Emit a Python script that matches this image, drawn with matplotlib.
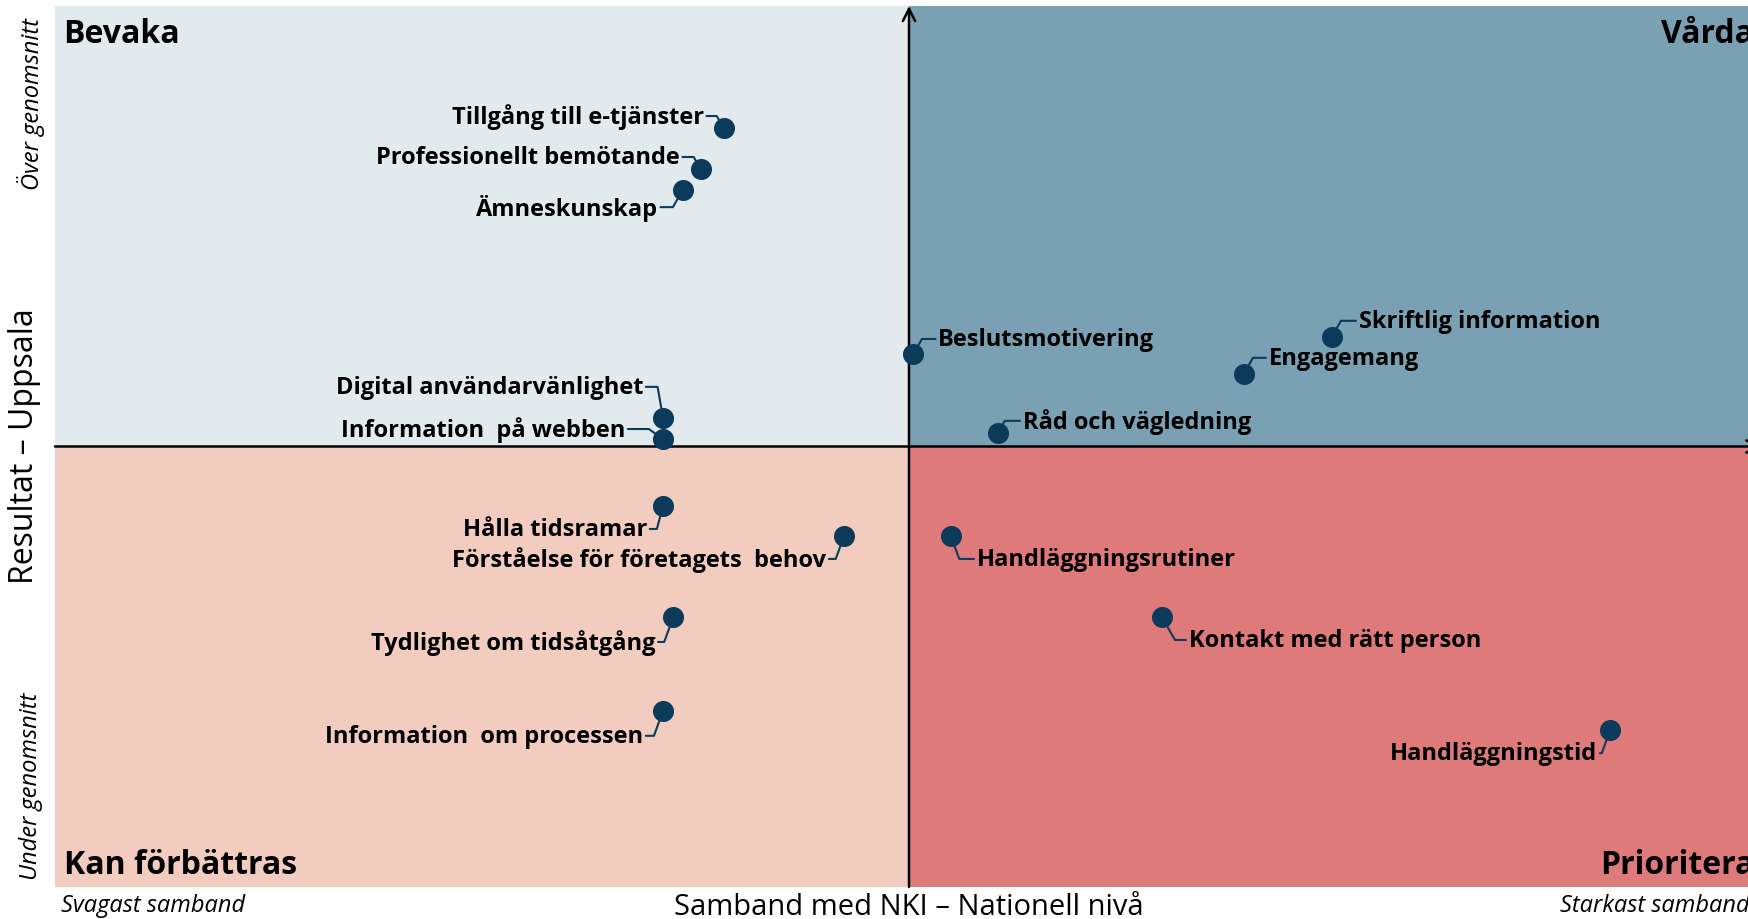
import matplotlib
matplotlib.use("Agg")
import matplotlib.pyplot as plt
from matplotlib.patches import Rectangle

plt.rcParams["font.family"] = ["Open Sans", "DejaVu Sans"]

# data: x = samband med NKI (centred at 0), y = resultat relative to average
labels = [
    "Tillgång till e-tjänster",
    "Professionellt bemötande",
    "Ämneskunskap",
    "Digital användarvänlighet",
    "Information  på webben",
    "Hålla tidsramar",
    "Förståelse för företagets  behov",
    "Tydlighet om tidsåtgång",
    "Information  om processen",
    "Beslutsmotivering",
    "Råd och vägledning",
    "Skriftlig information",
    "Engagemang",
    "Handläggningsrutiner",
    "Kontakt med rätt person",
    "Handläggningstid",
]
x_vals = [-0.217, -0.244, -0.265, -0.288, -0.288, -0.288, -0.076, -0.276, -0.288,
          0.005, 0.104, 0.495, 0.392, 0.049, 0.296, 0.821]
y_vals = [0.723, 0.630, 0.582, 0.065, 0.017, -0.135, -0.203, -0.387, -0.600,
          0.210, 0.031, 0.249, 0.165, -0.203, -0.387, -0.644]

# label offsets in pixels (dx, dy) and slant of the leader line
offsets = [(-20, 12), (-21, 12), (-25, -17), (-20, 31), (-38, 10), (-16, -23),
           (-18, -23), (-18, -25), (-20, -25), (25, 15), (25, 12), (27, 16),
           (25, 16), (26, -23), (27, -23), (-13, -23)]
slants = [60, 60, 60, 80, 35, 75, 70, 70, 70, 60, 60, 60, 60, 70, 60, 70]

quadrant_titles = ["Bevaka", "Vårda", "Kan förbättras", "Prioritera"]

dot_color = "#0b3a5a"
W, H = 1749, 920

fig = plt.figure(figsize=(W / 100, H / 100), dpi=100)
ax = fig.add_axes([55 / W, 32 / H, 1708 / W, 881 / H])
ax.set_xlim(-1, 1)
ax.set_ylim(-1, 1)
ax.axis("off")

# quadrant backgrounds
ax.add_patch(Rectangle((-1, 0), 1, 1, color="#e3eaee", zorder=0))
ax.add_patch(Rectangle((0, 0), 1, 1, color="#7aa1b3", zorder=0))
ax.add_patch(Rectangle((-1, -1), 1, 1, color="#f2cdbf", zorder=0))
ax.add_patch(Rectangle((0, -1), 1, 1, color="#df7a7a", zorder=0))

# axes arrows
ax.annotate("", xy=(0, 1), xytext=(0, -1),
            arrowprops=dict(arrowstyle="->", color="black", lw=1.8,
                            mutation_scale=22, shrinkA=0, shrinkB=0))
ax.annotate("", xy=(0.998, 0.0), xytext=(-1, 0.0),
            arrowprops=dict(arrowstyle="->", color="black", lw=1.8,
                            mutation_scale=22, shrinkA=0, shrinkB=0))

# quadrant titles
title_kw = dict(fontsize=23, fontweight="bold", va="center")
ax.text(-0.99, 0.937, quadrant_titles[0], ha="left", **title_kw)
ax.text(0.99, 0.937, quadrant_titles[1], ha="right", **title_kw)
ax.text(-0.99, -0.95, quadrant_titles[2], ha="left", **title_kw)
ax.text(0.99, -0.95, quadrant_titles[3], ha="right", **title_kw)

# points and labels
ax.scatter(x_vals, y_vals, s=200, color=dot_color, zorder=5)
for lab, x, y, (dx, dy), sl in zip(labels, x_vals, y_vals, offsets, slants):
    ha = "left" if dx > 0 else "right"
    angle_b = sl if dx * dy > 0 else 180 - sl
    ax.annotate(lab, xy=(x, y), xytext=(dx, dy), textcoords="offset pixels",
                ha=ha, va="center", fontsize=17, fontweight="bold", zorder=6,
                arrowprops=dict(arrowstyle="-", color=dot_color, lw=1.5,
                                shrinkA=0, shrinkB=0,
                                connectionstyle=f"angle,angleA=0,angleB={angle_b},rad=0"))

# axis titles
fig.text(909 / W, 1 - 908 / H, "Samband med NKI – Nationell nivå", fontsize=21,
         ha="center", va="center")
fig.text(25 / W, 1 - 446 / H, "Resultat – Uppsala", fontsize=23, rotation=90,
         ha="center", va="center")
fig.text(31 / W, 1 - 104 / H, "Över genomsnitt", fontsize=17, style="italic",
         rotation=90, ha="center", va="center")
fig.text(31 / W, 1 - 786 / H, "Under genomsnitt", fontsize=17, style="italic",
         rotation=90, ha="center", va="center")
fig.text(61 / W, 1 - 906 / H, "Svagast samband", fontsize=17, style="italic",
         ha="left", va="center")
fig.text(1750 / W, 1 - 906 / H, "Starkast samband", fontsize=17, style="italic",
         ha="right", va="center")

fig.savefig("out.png", dpi=100)
